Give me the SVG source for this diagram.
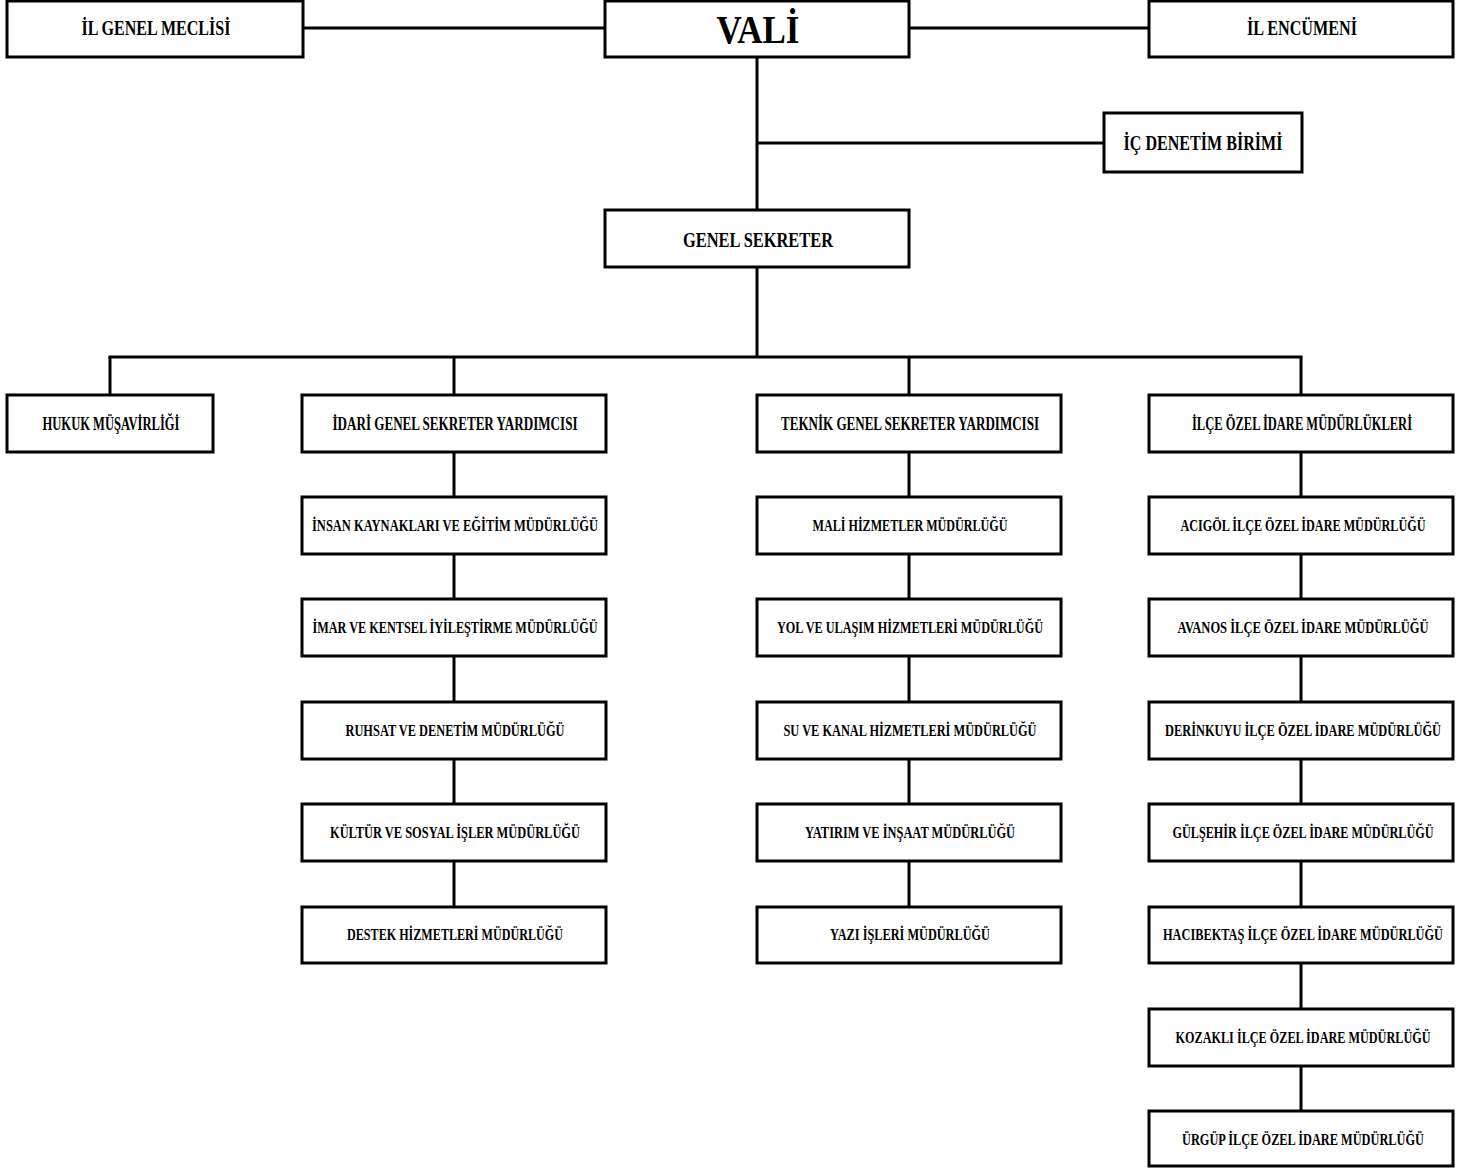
<svg xmlns="http://www.w3.org/2000/svg" width="1479" height="1168" viewBox="0 0 1479 1168">
<style>
rect{fill:#fff;stroke:#000;stroke-width:3}
.c line{stroke:#000;stroke-width:3}
text{font-family:"Liberation Serif","Times New Roman",serif;font-weight:bold;fill:#000;text-anchor:middle}
.t{font-size:22px}
.h{font-size:19px}
.s{font-size:17px}
</style>
<rect x="0" y="0" width="1479" height="1168" style="stroke:none"/>
<g class="c">
<line x1="303" y1="28" x2="605" y2="28"/>
<line x1="909" y1="28" x2="1149" y2="28"/>
<line x1="757" y1="57" x2="757" y2="210"/>
<line x1="757" y1="143" x2="1104" y2="143"/>
<line x1="757" y1="267" x2="757" y2="357"/>
<line x1="108.5" y1="357" x2="1302.5" y2="357"/>
<line x1="110" y1="357" x2="110" y2="395"/>
<line x1="454" y1="357" x2="454" y2="395"/>
<line x1="909" y1="357" x2="909" y2="395"/>
<line x1="1301" y1="357" x2="1301" y2="395"/>
<line x1="454" y1="452" x2="454" y2="497"/>
<line x1="454" y1="554" x2="454" y2="599"/>
<line x1="454" y1="656" x2="454" y2="702"/>
<line x1="454" y1="759" x2="454" y2="804"/>
<line x1="454" y1="861" x2="454" y2="907"/>
<line x1="909" y1="452" x2="909" y2="497"/>
<line x1="909" y1="554" x2="909" y2="599"/>
<line x1="909" y1="656" x2="909" y2="702"/>
<line x1="909" y1="759" x2="909" y2="804"/>
<line x1="909" y1="861" x2="909" y2="907"/>
<line x1="1301" y1="452" x2="1301" y2="497"/>
<line x1="1301" y1="554" x2="1301" y2="599"/>
<line x1="1301" y1="656" x2="1301" y2="702"/>
<line x1="1301" y1="759" x2="1301" y2="804"/>
<line x1="1301" y1="861" x2="1301" y2="907"/>
<line x1="1301" y1="963" x2="1301" y2="1009"/>
<line x1="1301" y1="1066" x2="1301" y2="1111"/>
</g>
<g id="il-genel-meclisi"><rect x="7" y="1" width="296" height="56"/><text class="t" x="156" y="35" textLength="149" lengthAdjust="spacingAndGlyphs">İL GENEL MECLİSİ</text></g>
<g id="vali"><rect x="605" y="1" width="304" height="56"/><text x="758" y="43" style="font-size:40px" textLength="83" lengthAdjust="spacingAndGlyphs">VALİ</text></g>
<g id="il-encumeni"><rect x="1149" y="1" width="304" height="56"/><text class="t" x="1302" y="35" textLength="110" lengthAdjust="spacingAndGlyphs">İL ENCÜMENİ</text></g>
<g id="ic-denetim"><rect x="1104" y="113" width="198" height="59"/><text class="t" x="1203" y="150" textLength="159" lengthAdjust="spacingAndGlyphs">İÇ DENETİM BİRİMİ</text></g>
<g id="genel-sekreter"><rect x="605" y="210" width="304" height="57"/><text class="t" x="758" y="247" textLength="150" lengthAdjust="spacingAndGlyphs">GENEL SEKRETER</text></g>
<g id="hukuk"><rect x="7" y="395" width="206" height="57"/><text class="h" x="111" y="430" textLength="137" lengthAdjust="spacingAndGlyphs">HUKUK MÜŞAVİRLİĞİ</text></g>
<g id="idari"><rect x="302" y="395" width="304" height="57"/><text class="h" x="455" y="430" textLength="245" lengthAdjust="spacingAndGlyphs">İDARİ GENEL SEKRETER YARDIMCISI</text></g>
<g id="teknik"><rect x="757" y="395" width="304" height="57"/><text class="h" x="910" y="430" textLength="258" lengthAdjust="spacingAndGlyphs">TEKNİK GENEL SEKRETER YARDIMCISI</text></g>
<g id="ilce"><rect x="1149" y="395" width="304" height="57"/><text class="h" transform="translate(1302,430) scale(0.72,1)" x="0" y="0" textLength="305.6" lengthAdjust="spacingAndGlyphs">İLÇE ÖZEL İDARE MÜDÜRLÜKLERİ</text></g>
<g id="insan"><rect x="302" y="497" width="304" height="57"/><text class="s" x="455" y="531" textLength="286" lengthAdjust="spacingAndGlyphs">İNSAN KAYNAKLARI VE EĞİTİM MÜDÜRLÜĞÜ</text></g>
<g id="imar"><rect x="302" y="599" width="304" height="57"/><text class="s" x="455" y="633" textLength="285" lengthAdjust="spacingAndGlyphs">İMAR VE KENTSEL İYİLEŞTİRME MÜDÜRLÜĞÜ</text></g>
<g id="ruhsat"><rect x="302" y="702" width="304" height="57"/><text class="s" x="455" y="736" textLength="219" lengthAdjust="spacingAndGlyphs">RUHSAT VE DENETİM MÜDÜRLÜĞÜ</text></g>
<g id="kultur"><rect x="302" y="804" width="304" height="57"/><text class="s" x="455" y="838" textLength="250" lengthAdjust="spacingAndGlyphs">KÜLTÜR VE SOSYAL İŞLER MÜDÜRLÜĞÜ</text></g>
<g id="destek"><rect x="302" y="907" width="304" height="56"/><text class="s" x="455" y="940" textLength="216" lengthAdjust="spacingAndGlyphs">DESTEK HİZMETLERİ MÜDÜRLÜĞÜ</text></g>
<g id="mali"><rect x="757" y="497" width="304" height="57"/><text class="s" x="910" y="531" textLength="195" lengthAdjust="spacingAndGlyphs">MALİ HİZMETLER MÜDÜRLÜĞÜ</text></g>
<g id="yol"><rect x="757" y="599" width="304" height="57"/><text class="s" x="910" y="633" textLength="266" lengthAdjust="spacingAndGlyphs">YOL VE ULAŞIM HİZMETLERİ MÜDÜRLÜĞÜ</text></g>
<g id="su"><rect x="757" y="702" width="304" height="57"/><text class="s" x="910" y="736" textLength="253" lengthAdjust="spacingAndGlyphs">SU VE KANAL HİZMETLERİ MÜDÜRLÜĞÜ</text></g>
<g id="yatirim"><rect x="757" y="804" width="304" height="57"/><text class="s" x="910" y="838" textLength="210" lengthAdjust="spacingAndGlyphs">YATIRIM VE İNŞAAT MÜDÜRLÜĞÜ</text></g>
<g id="yazi"><rect x="757" y="907" width="304" height="56"/><text class="s" x="910" y="940" textLength="160" lengthAdjust="spacingAndGlyphs">YAZI İŞLERİ MÜDÜRLÜĞÜ</text></g>
<g id="acigol"><rect x="1149" y="497" width="304" height="57"/><text class="s" transform="translate(1303,531) scale(0.72,1)" x="0" y="0" textLength="340.3" lengthAdjust="spacingAndGlyphs">ACIGÖL İLÇE ÖZEL İDARE MÜDÜRLÜĞÜ</text></g>
<g id="avanos"><rect x="1149" y="599" width="304" height="57"/><text class="s" transform="translate(1303,633) scale(0.72,1)" x="0" y="0" textLength="348.6" lengthAdjust="spacingAndGlyphs">AVANOS İLÇE ÖZEL İDARE MÜDÜRLÜĞÜ</text></g>
<g id="derinkuyu"><rect x="1149" y="702" width="304" height="57"/><text class="s" transform="translate(1303,736) scale(0.72,1)" x="0" y="0" textLength="383.3" lengthAdjust="spacingAndGlyphs">DERİNKUYU İLÇE ÖZEL İDARE MÜDÜRLÜĞÜ</text></g>
<g id="gulsehir"><rect x="1149" y="804" width="304" height="57"/><text class="s" transform="translate(1303,838) scale(0.72,1)" x="0" y="0" textLength="362.5" lengthAdjust="spacingAndGlyphs">GÜLŞEHİR İLÇE ÖZEL İDARE MÜDÜRLÜĞÜ</text></g>
<g id="hacibektas"><rect x="1149" y="907" width="304" height="56"/><text class="s" transform="translate(1303,940) scale(0.72,1)" x="0" y="0" textLength="388.9" lengthAdjust="spacingAndGlyphs">HACIBEKTAŞ İLÇE ÖZEL İDARE MÜDÜRLÜĞÜ</text></g>
<g id="kozakli"><rect x="1149" y="1009" width="304" height="57"/><text class="s" transform="translate(1303,1043) scale(0.72,1)" x="0" y="0" textLength="354.2" lengthAdjust="spacingAndGlyphs">KOZAKLI İLÇE ÖZEL İDARE MÜDÜRLÜĞÜ</text></g>
<g id="urgup"><rect x="1149" y="1111" width="304" height="55"/><text class="s" transform="translate(1303,1145) scale(0.72,1)" x="0" y="0" textLength="336.1" lengthAdjust="spacingAndGlyphs">ÜRGÜP İLÇE ÖZEL İDARE MÜDÜRLÜĞÜ</text></g>
</svg>
